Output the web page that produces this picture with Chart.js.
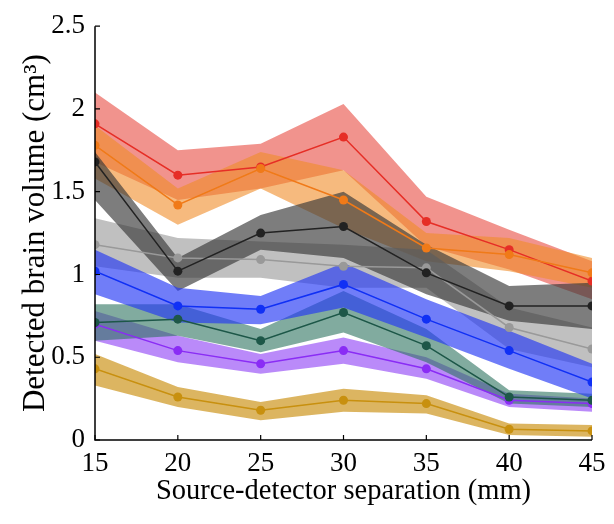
<!DOCTYPE html>
<html>
<head>
<meta charset="utf-8">
<script src="https://cdn.jsdelivr.net/npm/chart.js@4/dist/chart.umd.min.js"></script>
<style>
  html, body { margin: 0; padding: 0; background: #fff; }
  #wrap { width: 614px; height: 524px; }
</style>
</head>
<body>
<div id="wrap"><canvas id="chart"></canvas></div>
<script>
// separation (mm)
const separations = [15, 20, 25, 30, 35, 40, 45];
const yTicks = [0, 0.5, 1, 1.5, 2, 2.5];

// mean values + band edges, per series
const redMean   = [1.91, 1.60, 1.65, 1.83, 1.32, 1.15, 0.96];
const redUpper  = [2.10, 1.75, 1.79, 2.03, 1.47, 1.27, 1.08];
const redLower  = [1.68, 1.45, 1.52, 1.63, 1.17, 1.03, 0.85];

const orangeMean  = [1.78, 1.42, 1.64, 1.45, 1.16, 1.12, 1.01];
const orangeUpper = [1.90, 1.52, 1.74, 1.63, 1.25, 1.22, 1.10];
const orangeLower = [1.58, 1.30, 1.52, 1.28, 1.08, 1.02, 0.92];

const blackMean  = [1.68, 1.02, 1.25, 1.29, 1.01, 0.81, 0.81];
const blackUpper = [1.74, 1.10, 1.36, 1.50, 1.18, 0.93, 0.95];
const blackLower = [1.45, 0.90, 1.15, 1.10, 0.88, 0.72, 0.67];

const grayMean  = [1.18, 1.10, 1.09, 1.05, 1.04, 0.68, 0.55];
const grayUpper = [1.34, 1.22, 1.20, 1.18, 1.15, 0.80, 0.68];
const grayLower = [1.05, 0.98, 0.98, 0.92, 0.92, 0.55, 0.44];

const blueMean  = [1.02, 0.81, 0.79, 0.94, 0.73, 0.54, 0.35];
const blueUpper = [1.15, 0.92, 0.87, 1.07, 0.85, 0.66, 0.46];
const blueLower = [0.88, 0.71, 0.70, 0.80, 0.62, 0.43, 0.25];

const tealMean  = [0.71, 0.73, 0.60, 0.77, 0.57, 0.26, 0.24];
const tealUpper = [0.82, 0.82, 0.67, 0.90, 0.67, 0.30, 0.28];
const tealLower = [0.60, 0.63, 0.53, 0.65, 0.47, 0.22, 0.20];

const purpleMean  = [0.70, 0.54, 0.46, 0.54, 0.43, 0.24, 0.22];
const purpleUpper = [0.78, 0.63, 0.52, 0.62, 0.50, 0.28, 0.25];
const purpleLower = [0.60, 0.47, 0.40, 0.46, 0.37, 0.20, 0.17];

const goldMean  = [0.43, 0.26, 0.18, 0.24, 0.22, 0.065, 0.055];
const goldUpper = [0.52, 0.32, 0.23, 0.31, 0.27, 0.10, 0.09];
const goldLower = [0.33, 0.20, 0.12, 0.17, 0.16, 0.03, 0.02];

// first entry = drawn on top
const series = [
  { mean: goldMean,   hi: goldUpper,   lo: goldLower,   line: '#c8900f', band: 'rgba(205,150,30,0.7)' },
  { mean: blueMean,   hi: blueUpper,   lo: blueLower,   line: '#1030f5', band: 'rgba(35,55,245,0.65)' },
  { mean: tealMean,   hi: tealUpper,   lo: tealLower,   line: '#1d5748', band: 'rgba(45,115,95,0.6)' },
  { mean: purpleMean, hi: purpleUpper, lo: purpleLower, line: '#8a2cf5', band: 'rgba(140,60,245,0.6)' },
  { mean: blackMean,  hi: blackUpper,  lo: blackLower,  line: '#222222', band: 'rgba(55,55,55,0.65)' },
  { mean: grayMean,   hi: grayUpper,   lo: grayLower,   line: '#999999', band: 'rgba(165,165,165,0.7)' },
  { mean: orangeMean, hi: orangeUpper, lo: orangeLower, line: '#f07a18', band: 'rgba(240,140,40,0.6)' },
  { mean: redMean,    hi: redUpper,    lo: redLower,    line: '#e62e26', band: 'rgba(232,75,65,0.6)' },
];

const pts = arr => arr.map((v, i) => ({ x: separations[i], y: v }));

let datasets = [];
// lines on top
series.forEach(s => {
  datasets.push({
    data: pts(s.mean), borderColor: s.line, backgroundColor: s.line,
    borderWidth: 1.5, pointRadius: 4.5, pointBorderWidth: 0, fill: false, tension: 0, order: 0
  });
});
// bands
series.forEach(s => {
  datasets.push({
    data: pts(s.hi), borderWidth: 0, pointRadius: 0, borderColor: 'rgba(0,0,0,0)',
    backgroundColor: s.band, fill: '+1', tension: 0, order: 1
  });
  datasets.push({
    data: pts(s.lo), borderWidth: 0, pointRadius: 0, borderColor: 'rgba(0,0,0,0)',
    backgroundColor: 'rgba(0,0,0,0)', fill: false, tension: 0, order: 1
  });
});

// matlab-style inward ticks
const inwardTicks = {
  id: 'inwardTicks',
  afterDraw(chart) {
    const ctx = chart.ctx, xs = chart.scales.x, ys = chart.scales.y;
    const a = chart.chartArea;
    ctx.save();
    ctx.strokeStyle = '#000';
    ctx.lineWidth = 1.2;
    ctx.beginPath();
    separations.forEach(v => {
      const px = xs.getPixelForValue(v);
      ctx.moveTo(px, a.bottom); ctx.lineTo(px, a.bottom - 5);
    });
    yTicks.forEach(v => {
      const py = ys.getPixelForValue(v);
      ctx.moveTo(a.left, py); ctx.lineTo(a.left + 5, py);
    });
    ctx.stroke();
    ctx.lineWidth = 1.5;
    ctx.beginPath();
    ctx.moveTo(a.left, a.top); ctx.lineTo(a.left, a.bottom); ctx.lineTo(a.right, a.bottom);
    ctx.stroke();
    ctx.restore();
  }
};

new Chart(document.getElementById('chart'), {
  type: 'line',
  data: { datasets: datasets },
  plugins: [inwardTicks],
  options: {
    responsive: true,
    maintainAspectRatio: false,
    animation: false,
    layout: { padding: { top: 20, right: 22, left: 0, bottom: 0 } },
    plugins: {
      legend: { display: false },
      tooltip: { enabled: false },
      filler: { drawTime: 'beforeDatasetsDraw' }
    },
    scales: {
      x: {
        type: 'linear', min: 15, max: 45,
        afterBuildTicks: s => { s.ticks = separations.map(v => ({ value: v })); },
        afterFit: s => { s.height = 84; },
        grid: { display: false, drawTicks: false },
        border: { display: false },
        ticks: { color: '#000', padding: 8, maxRotation: 0, callback: v => String(v),
                 font: { family: 'Liberation Serif', size: 27 } },
        title: { display: true, text: 'Source-detector separation (mm)', color: '#000',
                 font: { family: 'Liberation Serif', size: 28.5 }, padding: { top: 0, bottom: 15 } }
      },
      y: {
        min: 0, max: 2.5,
        afterBuildTicks: s => { s.ticks = yTicks.map(v => ({ value: v })); },
        afterFit: s => { s.width = 95; },
        grid: { display: false, drawTicks: false },
        border: { display: false },
        ticks: { color: '#000', padding: 10, callback: v => String(v),
                 font: { family: 'Liberation Serif', size: 27 } },
        title: { display: true, text: 'Detected brain volume (cm³)', color: '#000',
                 font: { family: 'Liberation Serif', size: 31 }, padding: { top: 17, bottom: 0 } }
      }
    }
  }
});
</script>
</body>
</html>
